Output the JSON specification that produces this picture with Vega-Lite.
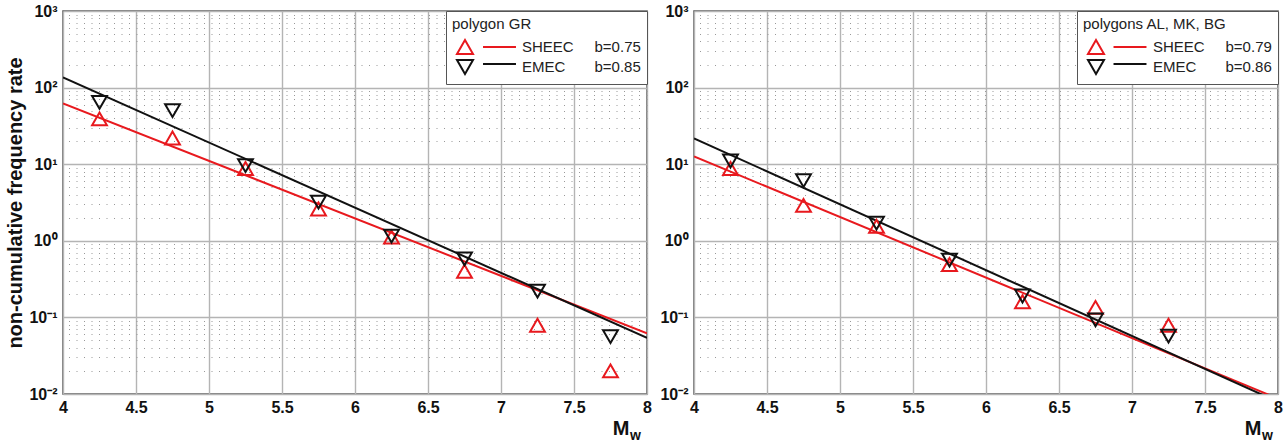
{
  "$schema": "https://vega.github.io/schema/vega-lite/v6.json",
  "padding": {"left": 5, "top": 2, "right": 0, "bottom": 0},
  "bounds": "flush",
  "spacing": 47,
  "background": "white",
  "datasets": {
    "linesL": [
      {"m": 4, "rate": 62, "series": "SHEEC"},
      {"m": 8, "rate": 0.062, "series": "SHEEC"},
      {"m": 4, "rate": 136, "series": "EMEC"},
      {"m": 8, "rate": 0.054, "series": "EMEC"}
    ],
    "pointsL": [
      {"m": 4.25, "rate": 39, "series": "SHEEC"},
      {"m": 4.75, "rate": 22, "series": "SHEEC"},
      {"m": 5.25, "rate": 8.8, "series": "SHEEC"},
      {"m": 5.75, "rate": 2.6, "series": "SHEEC"},
      {"m": 6.25, "rate": 1.12, "series": "SHEEC"},
      {"m": 6.75, "rate": 0.4, "series": "SHEEC"},
      {"m": 7.25, "rate": 0.079, "series": "SHEEC"},
      {"m": 7.75, "rate": 0.02, "series": "SHEEC"},
      {"m": 4.25, "rate": 64, "series": "EMEC"},
      {"m": 4.75, "rate": 50, "series": "EMEC"},
      {"m": 5.25, "rate": 9.6, "series": "EMEC"},
      {"m": 5.75, "rate": 3.2, "series": "EMEC"},
      {"m": 6.25, "rate": 1.15, "series": "EMEC"},
      {"m": 6.75, "rate": 0.58, "series": "EMEC"},
      {"m": 7.25, "rate": 0.22, "series": "EMEC"},
      {"m": 7.75, "rate": 0.056, "series": "EMEC"}
    ],
    "linesR": [
      {"m": 4, "rate": 12.6, "series": "SHEEC"},
      {"m": 8, "rate": 0.0087, "series": "SHEEC"},
      {"m": 4, "rate": 21.7, "series": "EMEC"},
      {"m": 8, "rate": 0.0079, "series": "EMEC"}
    ],
    "pointsR": [
      {"m": 4.25, "rate": 8.8, "series": "SHEEC"},
      {"m": 4.75, "rate": 2.9, "series": "SHEEC"},
      {"m": 5.25, "rate": 1.55, "series": "SHEEC"},
      {"m": 5.75, "rate": 0.49, "series": "SHEEC"},
      {"m": 6.25, "rate": 0.16, "series": "SHEEC"},
      {"m": 6.75, "rate": 0.135, "series": "SHEEC"},
      {"m": 7.25, "rate": 0.079, "series": "SHEEC"},
      {"m": 4.25, "rate": 11, "series": "EMEC"},
      {"m": 4.75, "rate": 6.1, "series": "EMEC"},
      {"m": 5.25, "rate": 1.7, "series": "EMEC"},
      {"m": 5.75, "rate": 0.56, "series": "EMEC"},
      {"m": 6.25, "rate": 0.19, "series": "EMEC"},
      {"m": 6.75, "rate": 0.093, "series": "EMEC"},
      {"m": 7.25, "rate": 0.057, "series": "EMEC"}
    ]
  },
  "hconcat": [
    {
      "width": 584,
      "height": 383,
      "layer": [
        {
          "data": {"name": "linesL"},
          "mark": {"type": "line", "strokeWidth": 2, "clip": true},
          "encoding": {
            "x": {"field": "m", "type": "quantitative",
              "scale": {"domain": [4, 8], "nice": false, "zero": false},
              "axis": {"values": [4, 4.5, 5, 5.5, 6, 6.5, 7, 7.5, 8], "format": "~g", "labelFlush": false, "labelPadding": 5, "grid": true, "ticks": false, "domain": false,
                "title": "M", "titleFontSize": 20, "titleFontWeight": "bold", "titleAlign": "right", "titleBaseline": "alphabetic", "titleX": 566, "titleY": 40, "titleAnchor": null}},
            "y": {"field": "rate", "type": "quantitative",
              "scale": {"type": "log", "domain": [0.01, 1000], "nice": false},
              "axis": {"values": [0.01, 0.1, 1, 10, 100, 1000], "grid": true, "ticks": false, "domain": false, "labelPadding": 6,
                "labelExpr": "datum.value >= 999 ? '10³' : datum.value >= 99 ? '10²' : datum.value >= 9 ? '10¹' : datum.value >= 0.9 ? '10⁰' : datum.value >= 0.09 ? '10⁻¹' : '10⁻²'",
                "title": "non-cumulative frequency rate", "titleFontSize": 20, "titleFontWeight": "bold", "titlePadding": 3}},
            "color": {"field": "series", "type": "nominal", "sort": "descending", "scale": {"range": ["#e8191e", "#111111"]},
              "legend": {"orient": "none", "legendX": 421.5, "legendY": 0, "zindex": 3, "title": "\u00a0", "titleFontSize": 15, "titleFontWeight": "normal", "titlePadding": 6,
                "labelExpr": "'\u00a0'", "labelFontSize": 15, "labelOffset": 4, "symbolType": "M-2.06,0L2.06,0", "symbolSize": 256, "symbolStrokeWidth": 2, "symbolOffset": 0,
                "padding": 6, "rowPadding": -3, "strokeColor": "transparent", "fillColor": "transparent"}}
          }
        },
        {
          "data": {"name": "pointsL"},
          "mark": {"type": "point", "filled": false, "strokeWidth": 2, "size": 220, "opacity": 1},
          "encoding": {
            "x": {"field": "m", "type": "quantitative",
              "scale": {"domain": [4, 8], "nice": false, "zero": false},
              "axis": {"orient": "top", "labels": false, "grid": false, "ticks": false, "domain": false, "title": "w", "titleFontSize": 14, "titleFontWeight": "bold", "titleAlign": "center", "titleBaseline": "alphabetic", "titleX": 572, "titleY": 428, "titleAnchor": null}},
            "y": {"field": "rate", "type": "quantitative",
              "scale": {"type": "log", "domain": [0.01, 1000], "nice": false},
              "axis": {"orient": "right", "labels": false, "ticks": false, "domain": false, "title": null, "grid": true, "gridDash": [1, 6.5], "gridColor": "#999999", "gridWidth": 1,
                "values": [0.02, 0.03, 0.04, 0.05, 0.06, 0.07, 0.08, 0.09, 0.2, 0.3, 0.4, 0.5, 0.6, 0.7, 0.8, 0.9, 2, 3, 4, 5, 6, 7, 8, 9, 20, 30, 40, 50, 60, 70, 80, 90, 200, 300, 400, 500, 600, 700, 800, 900]}},
            "stroke": {"field": "series", "type": "nominal", "scale": {"domain": ["SHEEC", "EMEC"], "range": ["#e8191e", "#111111"]},
              "legend": {"orient": "none", "legendX": 383, "legendY": 0, "zindex": 2, "title": "polygon GR", "titleColor": "#222222", "titleFontSize": 15, "titleFontWeight": "normal", "titlePadding": 6,
                "labelExpr": "datum.label == 'SHEEC' ? 'SHEEC\u00a0\u00a0\u00a0\u00a0\u00a0b=0.75' : 'EMEC\u00a0\u00a0\u00a0\u00a0\u00a0\u00a0\u00a0b=0.85'",
                "labelColor": "#222222", "labelFontSize": 15, "labelOffset": 48, "symbolSize": 256, "symbolStrokeWidth": 2, "symbolOffset": 4,
                "padding": 6, "rowPadding": -3, "strokeColor": "#555555", "fillColor": "white"}},
            "shape": {"field": "series", "type": "nominal", "scale": {"domain": ["SHEEC", "EMEC"], "range": ["triangle-up", "triangle-down"]},
              "legend": {"orient": "none", "legendX": 383, "legendY": 0, "zindex": 2, "title": "polygon GR", "titleColor": "#222222", "titleFontSize": 15, "titleFontWeight": "normal", "titlePadding": 6,
                "labelExpr": "datum.label == 'SHEEC' ? 'SHEEC\u00a0\u00a0\u00a0\u00a0\u00a0b=0.75' : 'EMEC\u00a0\u00a0\u00a0\u00a0\u00a0\u00a0\u00a0b=0.85'",
                "labelColor": "#222222", "labelFontSize": 15, "labelOffset": 48, "symbolSize": 256, "symbolStrokeWidth": 2, "symbolOffset": 4,
                "padding": 6, "rowPadding": -3, "strokeColor": "#555555", "fillColor": "white"}}
          }
        }
      ],
      "resolve": {"axis": {"x": "independent", "y": "independent"}}
    },
    {
      "width": 584,
      "height": 383,
      "layer": [
        {
          "data": {"name": "linesR"},
          "mark": {"type": "line", "strokeWidth": 2, "clip": true},
          "encoding": {
            "x": {"field": "m", "type": "quantitative",
              "scale": {"domain": [4, 8], "nice": false, "zero": false},
              "axis": {"values": [4, 4.5, 5, 5.5, 6, 6.5, 7, 7.5, 8], "format": "~g", "labelFlush": false, "labelPadding": 5, "grid": true, "ticks": false, "domain": false,
                "title": "M", "titleFontSize": 20, "titleFontWeight": "bold", "titleAlign": "right", "titleBaseline": "alphabetic", "titleX": 567, "titleY": 40, "titleAnchor": null}},
            "y": {"field": "rate", "type": "quantitative",
              "scale": {"type": "log", "domain": [0.01, 1000], "nice": false},
              "axis": {"values": [0.01, 0.1, 1, 10, 100, 1000], "grid": true, "ticks": false, "domain": false, "labelPadding": 6,
                "labelExpr": "datum.value >= 999 ? '10³' : datum.value >= 99 ? '10²' : datum.value >= 9 ? '10¹' : datum.value >= 0.9 ? '10⁰' : datum.value >= 0.09 ? '10⁻¹' : '10⁻²'",
                "title": null}},
            "color": {"field": "series", "type": "nominal", "sort": "descending", "scale": {"range": ["#e8191e", "#111111"]},
              "legend": {"orient": "none", "legendX": 421, "legendY": 0, "zindex": 3, "title": "\u00a0", "titleFontSize": 15, "titleFontWeight": "normal", "titlePadding": 6,
                "labelExpr": "'\u00a0'", "labelFontSize": 15, "labelOffset": 4, "symbolType": "M-2.06,0L2.06,0", "symbolSize": 256, "symbolStrokeWidth": 2, "symbolOffset": 0,
                "padding": 6, "rowPadding": -3, "strokeColor": "transparent", "fillColor": "transparent"}}
          }
        },
        {
          "data": {"name": "pointsR"},
          "mark": {"type": "point", "filled": false, "strokeWidth": 2, "size": 220, "opacity": 1},
          "encoding": {
            "x": {"field": "m", "type": "quantitative",
              "scale": {"domain": [4, 8], "nice": false, "zero": false},
              "axis": {"orient": "top", "labels": false, "grid": false, "ticks": false, "domain": false, "title": "w", "titleFontSize": 14, "titleFontWeight": "bold", "titleAlign": "center", "titleBaseline": "alphabetic", "titleX": 573, "titleY": 428, "titleAnchor": null}},
            "y": {"field": "rate", "type": "quantitative",
              "scale": {"type": "log", "domain": [0.01, 1000], "nice": false},
              "axis": {"orient": "right", "labels": false, "ticks": false, "domain": false, "title": null, "grid": true, "gridDash": [1, 6.5], "gridColor": "#999999", "gridWidth": 1,
                "values": [0.02, 0.03, 0.04, 0.05, 0.06, 0.07, 0.08, 0.09, 0.2, 0.3, 0.4, 0.5, 0.6, 0.7, 0.8, 0.9, 2, 3, 4, 5, 6, 7, 8, 9, 20, 30, 40, 50, 60, 70, 80, 90, 200, 300, 400, 500, 600, 700, 800, 900]}},
            "stroke": {"field": "series", "type": "nominal", "scale": {"domain": ["SHEEC", "EMEC"], "range": ["#e8191e", "#111111"]},
              "legend": {"orient": "none", "legendX": 383, "legendY": 0, "zindex": 2, "title": "polygons AL, MK, BG", "titleColor": "#222222", "titleFontSize": 15, "titleFontWeight": "normal", "titlePadding": 6,
                "labelExpr": "datum.label == 'SHEEC' ? 'SHEEC\u00a0\u00a0\u00a0\u00a0\u00a0b=0.79' : 'EMEC\u00a0\u00a0\u00a0\u00a0\u00a0\u00a0\u00a0b=0.86'",
                "labelColor": "#222222", "labelFontSize": 15, "labelOffset": 48, "symbolSize": 256, "symbolStrokeWidth": 2, "symbolOffset": 4,
                "padding": 6, "rowPadding": -3, "strokeColor": "#555555", "fillColor": "white"}},
            "shape": {"field": "series", "type": "nominal", "scale": {"domain": ["SHEEC", "EMEC"], "range": ["triangle-up", "triangle-down"]},
              "legend": {"orient": "none", "legendX": 383, "legendY": 0, "zindex": 2, "title": "polygons AL, MK, BG", "titleColor": "#222222", "titleFontSize": 15, "titleFontWeight": "normal", "titlePadding": 6,
                "labelExpr": "datum.label == 'SHEEC' ? 'SHEEC\u00a0\u00a0\u00a0\u00a0\u00a0b=0.79' : 'EMEC\u00a0\u00a0\u00a0\u00a0\u00a0\u00a0\u00a0b=0.86'",
                "labelColor": "#222222", "labelFontSize": 15, "labelOffset": 48, "symbolSize": 256, "symbolStrokeWidth": 2, "symbolOffset": 4,
                "padding": 6, "rowPadding": -3, "strokeColor": "#555555", "fillColor": "white"}}
          }
        }
      ],
      "resolve": {"axis": {"x": "independent", "y": "independent"}}
    }
  ],
  "resolve": {"scale": {"stroke": "independent", "shape": "independent", "color": "independent"}},
  "config": {
    "font": "Liberation Sans",
    "view": {"stroke": "#555555", "strokeWidth": 1.5},
    "axis": {"labelFont": "Liberation Sans", "labelFontWeight": "bold", "labelFontSize": 16, "labelColor": "#111111",
      "titleFont": "Liberation Sans", "titleColor": "#111111", "domain": false, "ticks": false,
      "gridColor": "#b4b4b4", "gridWidth": 1.4, "gridOpacity": 1},
    "legend": {"titleFont": "Liberation Sans", "titleLimit": 400, "labelFont": "Liberation Sans", "labelLimit": 400,
      "symbolFillColor": "transparent", "cornerRadius": 0}
  }
}
